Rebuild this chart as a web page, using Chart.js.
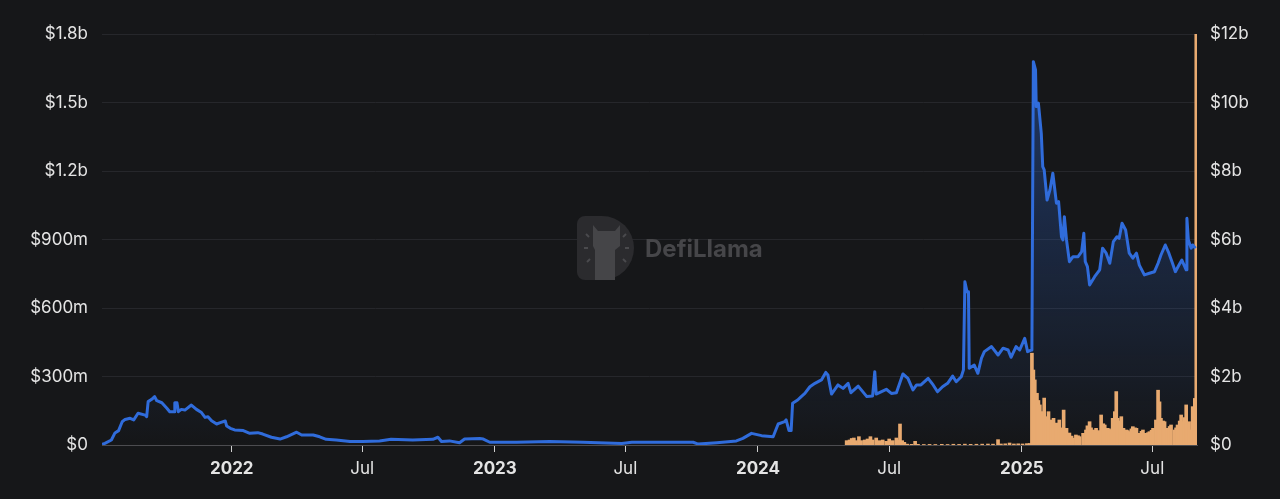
<!DOCTYPE html>
<html>
<head>
<meta charset="utf-8">
<title>TVL and volume</title>
<script src="https://cdn.jsdelivr.net/npm/chart.js@4.4.1/dist/chart.umd.min.js"></script>
<style>
	html, body { margin: 0; padding: 0; background: #161719; }
	.chart { position: relative; width: 1280px; height: 499px; }
</style>
</head>
<body>
<div class="chart"><canvas id="tvl"></canvas></div>
<script>
// TVL, $m
const tvlDates = [
	'2021-07-05', '2021-07-09', '2021-07-18', '2021-07-23', '2021-07-28', '2021-08-02', '2021-08-06', '2021-08-13',
	'2021-08-18', '2021-08-24', '2021-09-03', '2021-09-05', '2021-09-07', '2021-09-12', '2021-09-16', '2021-09-19',
	'2021-09-26', '2021-10-03', '2021-10-07', '2021-10-13', '2021-10-14', '2021-10-17', '2021-10-19', '2021-10-23',
	'2021-10-28', '2021-11-06', '2021-11-13', '2021-11-20', '2021-11-25', '2021-11-29', '2021-12-04', '2021-12-11',
	'2021-12-16', '2021-12-23', '2021-12-25', '2021-12-30',
	'2022-01-05', '2022-01-17', '2022-01-26', '2022-02-06', '2022-02-13', '2022-02-25', '2022-03-09', '2022-03-18',
	'2022-04-01', '2022-04-08', '2022-04-24', '2022-05-03', '2022-05-12', '2022-05-26', '2022-06-14', '2022-07-02',
	'2022-07-25', '2022-08-10', '2022-09-09', '2022-10-07', '2022-10-14', '2022-10-19', '2022-10-30', '2022-11-13',
	'2022-11-20', '2022-12-11', '2022-12-16', '2022-12-25',
	'2023-01-31', '2023-03-18', '2023-05-03', '2023-06-26', '2023-07-10', '2023-10-03', '2023-10-10', '2023-11-05',
	'2023-12-02', '2023-12-11', '2023-12-23',
	'2024-01-06', '2024-01-22', '2024-01-29', '2024-02-07', '2024-02-09', '2024-02-13', '2024-02-16', '2024-02-18',
	'2024-02-25', '2024-03-01', '2024-03-06', '2024-03-13', '2024-03-20', '2024-03-29', '2024-04-04', '2024-04-07',
	'2024-04-12', '2024-04-21', '2024-04-28', '2024-05-05', '2024-05-09', '2024-05-19', '2024-05-31', '2024-06-08',
	'2024-06-11', '2024-06-13', '2024-06-27', '2024-07-04', '2024-07-11', '2024-07-20', '2024-07-27', '2024-08-03',
	'2024-08-08', '2024-08-14', '2024-08-24', '2024-08-31', '2024-09-06', '2024-09-13', '2024-09-20', '2024-09-27',
	'2024-10-02', '2024-10-09', '2024-10-12', '2024-10-14', '2024-10-17', '2024-10-19', '2024-10-20', '2024-10-27',
	'2024-11-01', '2024-11-06', '2024-11-10', '2024-11-20', '2024-11-29', '2024-12-06', '2024-12-13', '2024-12-17',
	'2024-12-24', '2024-12-29',
	'2025-01-05', '2025-01-09', '2025-01-14', '2025-01-15', '2025-01-16', '2025-01-17', '2025-01-20', '2025-01-21',
	'2025-01-24', '2025-01-28', '2025-01-30', '2025-02-01', '2025-02-05', '2025-02-09', '2025-02-13', '2025-02-18',
	'2025-02-21', '2025-02-25', '2025-02-27', '2025-03-01', '2025-03-04', '2025-03-08', '2025-03-13', '2025-03-20',
	'2025-03-25', '2025-03-28', '2025-03-30', '2025-04-02', '2025-04-05', '2025-04-12', '2025-04-19', '2025-04-23',
	'2025-04-28', '2025-05-03', '2025-05-08', '2025-05-13', '2025-05-16', '2025-05-20', '2025-05-25', '2025-05-30',
	'2025-06-04', '2025-06-09', '2025-06-13', '2025-06-20', '2025-06-27', '2025-07-04', '2025-07-09', '2025-07-13',
	'2025-07-19', '2025-07-24', '2025-07-29', '2025-08-02', '2025-08-07', '2025-08-11', '2025-08-17', '2025-08-18',
	'2025-08-20', '2025-08-24', '2025-08-26', '2025-08-30'
];
const tvlValues = [
	3, 7, 22, 53, 63, 102, 112, 117,
	110, 139, 131, 124, 190, 200, 212, 194,
	185, 161, 146, 146, 185, 185, 146, 156,
	153, 175, 156, 142, 121, 124, 106, 92,
	98, 105, 83, 73,
	66, 63, 51, 54, 48, 34, 26, 36,
	56, 44, 44, 36, 25, 22, 15, 15,
	18, 25, 22, 25, 34, 15, 18, 10,
	26, 28, 26, 12,
	12, 15, 12, 7, 12, 12, 4, 10,
	18, 29, 51,
	41, 36, 92, 102, 110, 63, 63, 183,
	197, 212, 226, 255, 270, 285, 318, 307,
	223, 263, 248, 270, 229, 258, 212, 215,
	321, 223, 244, 226, 229, 311, 292, 241,
	263, 263, 292, 263, 233, 255, 270, 302,
	277, 299, 329, 715, 671, 671, 336, 350,
	314, 380, 409, 431, 394, 424, 416, 384,
	431, 416,
	467, 409, 416, 430, 1073, 1679, 1643, 1482,
	1497, 1365, 1219, 1205, 1073, 1117, 1190, 1059,
	1066, 912, 898, 1000, 898, 803, 825, 825,
	847, 927, 803, 781, 701, 737, 767, 862,
	840, 796, 891, 912, 905, 971, 942, 840,
	818, 840, 788, 745, 752, 759, 796, 832,
	876, 840, 796, 759, 788, 810, 767, 993,
	898, 862, 876, 862
];

// volume, $m
const volumeDates = [
	'2024-05-03', '2024-05-07', '2024-05-10', '2024-05-13', '2024-05-16', '2024-05-20', '2024-05-23', '2024-05-28',
	'2024-06-01', '2024-06-05', '2024-06-08', '2024-06-13', '2024-06-18', '2024-06-22', '2024-06-27', '2024-07-01',
	'2024-07-06', '2024-07-11', '2024-07-13', '2024-07-16', '2024-07-19', '2024-07-22', '2024-07-26', '2024-08-01',
	'2024-08-06', '2024-08-10', '2024-08-18', '2024-08-26', '2024-09-03', '2024-09-12', '2024-09-20', '2024-09-28',
	'2024-10-06', '2024-10-14', '2024-10-22', '2024-10-30', '2024-11-07', '2024-11-15', '2024-11-22', '2024-11-29',
	'2024-12-03', '2024-12-09', '2024-12-15', '2024-12-21', '2024-12-27', '2025-01-02', '2025-01-08', '2025-01-12',
	'2025-01-15', '2025-01-17', '2025-01-19', '2025-01-22', '2025-01-24', '2025-01-26', '2025-01-28', '2025-02-01',
	'2025-02-04', '2025-02-07', '2025-02-11', '2025-02-14', '2025-02-18', '2025-02-22', '2025-02-25', '2025-02-28',
	'2025-03-04', '2025-03-06', '2025-03-08', '2025-03-11', '2025-03-13', '2025-03-17', '2025-03-20', '2025-03-22',
	'2025-03-27', '2025-03-31', '2025-04-02', '2025-04-05', '2025-04-07', '2025-04-10', '2025-04-14', '2025-04-17',
	'2025-04-19', '2025-04-21', '2025-04-24', '2025-04-26', '2025-04-30', '2025-05-02', '2025-05-05', '2025-05-07',
	'2025-05-10', '2025-05-12', '2025-05-14', '2025-05-17', '2025-05-19', '2025-05-22', '2025-05-26', '2025-05-28',
	'2025-05-30', '2025-06-02', '2025-06-04', '2025-06-07', '2025-06-09', '2025-06-13', '2025-06-16', '2025-06-18',
	'2025-06-22', '2025-06-25', '2025-06-27', '2025-06-30', '2025-07-02', '2025-07-06', '2025-07-09', '2025-07-11',
	'2025-07-13', '2025-07-16', '2025-07-18', '2025-07-22', '2025-07-25', '2025-07-27', '2025-08-01', '2025-08-03',
	'2025-08-05', '2025-08-08', '2025-08-10', '2025-08-12', '2025-08-15', '2025-08-17', '2025-08-19', '2025-08-21',
	'2025-08-24', '2025-08-26', '2025-08-28', '2025-08-29', '2025-08-31'
];
const volumeValues = [
	127, 146, 190, 204, 127, 243, 127, 146,
	175, 243, 146, 204, 127, 146, 107, 175,
	127, 204, 146, 613, 127, 78, 25, 20,
	107, 20, 15, 18, 15, 20, 15, 22,
	18, 25, 20, 22, 25, 28, 25, 156,
	30, 35, 58, 30, 35, 30, 40, 45,
	2680, 2190, 1900, 1510, 1300, 1170, 975, 1370,
	827, 973, 730, 779, 640, 730, 500, 1020,
	487, 146, 350, 260, 200, 292, 270, 243,
	341, 438, 560, 680, 500, 438, 487, 420,
	389, 876, 620, 584, 487, 470, 438, 779,
	973, 1560, 779, 700, 827, 487, 438, 420,
	389, 470, 535, 500, 487, 341, 400, 438,
	341, 360, 389, 430, 487, 730, 1600, 1260,
	779, 700, 680, 487, 540, 584, 438, 500,
	584, 700, 876, 680, 800, 1170, 487, 680,
	438, 1120, 487, 1360, 12000
];

// axes
const tvlTicks = [0, 300, 600, 900, 1200, 1500, 1800];
const tvlTickLabels = ['$0', '$300m', '$600m', '$900m', '$1.2b', '$1.5b', '$1.8b'];
const volumeTicks = [0, 2000, 4000, 6000, 8000, 10000, 12000];
const volumeTickLabels = ['$0', '$2b', '$4b', '$6b', '$8b', '$10b', '$12b'];
const dateTicks = ['2022-01-01', '2022-07-01', '2023-01-01', '2023-07-01', '2024-01-01', '2024-07-01', '2025-01-01', '2025-07-01'];
const dateTickLabels = ['2022', 'Jul', '2023', 'Jul', '2024', 'Jul', '2025', 'Jul'];
const dateMin = '2021-07-05';
const dateMax = '2025-09-01';

const FONT = 'Inter, "Liberation Sans", Arial, sans-serif';
const TEXT = '#e4e4e4';
const BLUE = '#306cdb';
const ORANGE = '#e8aa70';

const toPoints = (dates, values) => dates.map((d, i) => ({ x: Date.parse(d), y: values[i] }));

const fixedTicks = (values, labels) => scale => {
	scale.ticks = values.map((v, i) => ({ value: typeof v === 'string' ? Date.parse(v) : v, label: labels[i], major: /^\d/.test(labels[i]) }));
};
const labelFor = (values, labels) => value => {
	const i = values.findIndex(v => (typeof v === 'string' ? Date.parse(v) : v) === value);
	return i < 0 ? '' : labels[i];
};

// DefiLlama watermark behind the series
const watermark = {
	id: 'watermark',
	beforeDatasetsDraw(chart) {
		const { ctx } = chart;
		ctx.save();
		ctx.fillStyle = '#2b2b2e';
		ctx.beginPath();
		ctx.moveTo(585, 216);
		ctx.lineTo(602, 216);
		ctx.arc(602, 248, 32, -Math.PI / 2, Math.PI / 2);
		ctx.lineTo(585, 280);
		ctx.arcTo(577, 280, 577, 272, 8);
		ctx.lineTo(577, 224);
		ctx.arcTo(577, 216, 585, 216, 8);
		ctx.closePath();
		ctx.fill();

		// llama head and neck
		ctx.fillStyle = '#454548';
		ctx.beginPath();
		ctx.moveTo(593, 225);
		ctx.lineTo(598, 231);
		ctx.lineTo(615, 231);
		ctx.lineTo(620, 225);
		ctx.lineTo(620, 246);
		ctx.lineTo(615, 250);
		ctx.lineTo(615, 280);
		ctx.lineTo(595, 280);
		ctx.lineTo(595, 250);
		ctx.lineTo(593, 246);
		ctx.closePath();
		ctx.fill();

		ctx.strokeStyle = '#4a4a4d';
		ctx.lineWidth = 2;
		[[584, 248, 588, 248], [586, 234, 589, 237], [587, 262, 590, 259], [623, 237, 626, 234], [625, 248, 629, 248], [623, 259, 626, 262]]
			.forEach(([x1, y1, x2, y2]) => {
				ctx.beginPath();
				ctx.moveTo(x1, y1);
				ctx.lineTo(x2, y2);
				ctx.stroke();
			});

		ctx.fillStyle = '#464649';
		ctx.font = `bold 24px ${FONT}`;
		ctx.textBaseline = 'middle';
		ctx.fillText('DefiLlama', 645, 250);
		ctx.restore();
	}
};

const tvlFill = context => {
	const { ctx, chartArea } = context.chart;
	if (!chartArea) {
		return 'transparent';
	}
	const gradient = ctx.createLinearGradient(0, chartArea.top, 0, chartArea.bottom);
	gradient.addColorStop(0, 'rgba(47, 106, 217, 0.42)');
	gradient.addColorStop(1, 'rgba(47, 106, 217, 0)');
	return gradient;
};

new Chart(document.getElementById('tvl'), {
	type: 'line',
	data: {
		datasets: [{
			type: 'line',
			label: 'TVL',
			data: toPoints(tvlDates, tvlValues),
			yAxisID: 'y',
			borderColor: BLUE,
			borderWidth: 3,
			borderJoinStyle: 'round',
			backgroundColor: tvlFill,
			fill: 'origin',
			pointRadius: 0,
			tension: 0,
			order: 0
		}, {
			type: 'bar',
			label: 'Volume',
			data: toPoints(volumeDates, volumeValues),
			yAxisID: 'y1',
			backgroundColor: ORANGE,
			borderWidth: 0,
			barThickness: 3,
			order: 1
		}]
	},
	options: {
		responsive: true,
		maintainAspectRatio: false,
		animation: false,
		layout: { padding: { top: 34, left: 0, right: 0, bottom: 0 } },
		plugins: {
			legend: { display: false },
			tooltip: { enabled: false },
			filler: { drawTime: 'beforeDatasetsDraw' }
		},
		scales: {
			x: {
				type: 'linear',
				min: Date.parse(dateMin),
				max: Date.parse(dateMax),
				offset: false,
				afterBuildTicks: fixedTicks(dateTicks, dateTickLabels),
				afterFit: scale => { scale.height = 54; },
				grid: { drawOnChartArea: false, drawTicks: true, tickLength: 7, color: '#cfcfcf', offset: false },
				border: { display: true, color: '#4c4c50', width: 1 },
				ticks: {
					autoSkip: false,
					maxRotation: 0,
					padding: 7,
					color: TEXT,
					font: ctx => ({ family: FONT, size: 17, weight: ctx.tick && ctx.tick.major ? 'bold' : 'normal' }),
					callback: labelFor(dateTicks, dateTickLabels)
				}
			},
			y: {
				position: 'left',
				min: 0,
				max: 1800,
				afterBuildTicks: fixedTicks(tvlTicks, tvlTickLabels),
				afterFit: scale => { scale.width = 102; },
				grid: { color: '#26272b', lineWidth: 1, drawTicks: false },
				border: { display: false },
				ticks: {
					padding: 14,
					color: TEXT,
					font: { family: FONT, size: 17 },
					callback: labelFor(tvlTicks, tvlTickLabels)
				}
			},
			y1: {
				position: 'right',
				min: 0,
				max: 12000,
				afterBuildTicks: fixedTicks(volumeTicks, volumeTickLabels),
				afterFit: scale => { scale.width = 83; },
				grid: { display: false, drawTicks: false },
				border: { display: false },
				ticks: {
					padding: 13,
					color: TEXT,
					font: { family: FONT, size: 17 },
					callback: labelFor(volumeTicks, volumeTickLabels)
				}
			}
		}
	},
	plugins: [watermark]
});
</script>
</body>
</html>
